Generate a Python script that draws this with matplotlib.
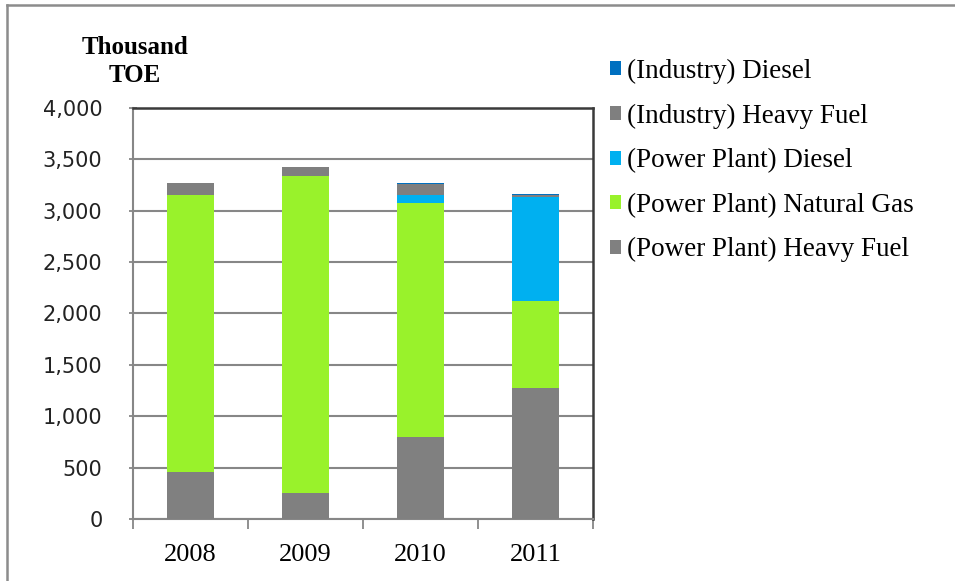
import matplotlib
matplotlib.use("Agg")
import matplotlib.pyplot as plt
from matplotlib.lines import Line2D
from matplotlib.ticker import FuncFormatter, MultipleLocator
import numpy as np

years = ["2008", "2009", "2010", "2011"]
pp_heavy_fuel = [460, 256, 801, 1271]
pp_natural_gas = [2698, 3081, 2270, 853]
pp_diesel = [0, 0, 81, 1007]
ind_heavy_fuel = [108, 90, 112, 22]
ind_diesel = [0, 0, 7, 8]

series = [
    ("(Power Plant) Heavy Fuel", pp_heavy_fuel, "#808080"),
    ("(Power Plant) Natural Gas", pp_natural_gas, "#99F22B"),
    ("(Power Plant) Diesel", pp_diesel, "#00B0F0"),
    ("(Industry) Heavy Fuel", ind_heavy_fuel, "#7F7F7F"),
    ("(Industry) Diesel", ind_diesel, "#0070C0"),
]

fig = plt.figure(figsize=(9.55, 5.81), dpi=100)
ax = fig.add_axes([133/955, 1-519/581, (593-133)/955, (519-108)/581])

x = np.arange(len(years))
bottom = np.zeros(len(years))
handles = []
for name, vals, col in series:
    b = ax.bar(x, vals, width=0.41, bottom=bottom, color=col, label=name, zorder=3)
    handles.append(b)
    bottom += np.array(vals)

ax.set_xlim(-0.5, 3.5)
ax.set_ylim(0, 4000)
ax.yaxis.set_major_locator(MultipleLocator(500))
ax.yaxis.set_major_formatter(FuncFormatter(lambda v, p: f"{int(v):,}"))
ax.grid(axis="y", color="#878787", lw=1.5, zorder=0)

ax.set_xticks(x)
ax.set_xticklabels(years, fontfamily="Liberation Serif", fontsize=19)
ax.set_xticks(np.arange(-0.5, 4.0, 1.0), minor=True)
ax.tick_params(axis="x", which="major", length=0, pad=18)
ax.tick_params(axis="x", which="minor", length=7, width=1.3, color="#878787", direction="out")
ax.tick_params(axis="y", length=6, width=1.3, color="#878787", direction="inout", pad=19, labelsize=15)
for lab in ax.get_yticklabels():
    lab.set_fontfamily("DejaVu Sans")
    lab.set_color("#222222")

ax.spines["left"].set_color("#878787")
ax.spines["left"].set_linewidth(1.5)
ax.spines["bottom"].set_color("#878787")
ax.spines["bottom"].set_linewidth(1.5)
ax.spines["top"].set_color("#3a3a3a")
ax.spines["top"].set_linewidth(1.8)
ax.spines["right"].set_color("#3a3a3a")
ax.spines["right"].set_linewidth(1.8)

fig.text(135/955, 1-48/581, "Thousand", ha="center", va="center", fontfamily="Liberation Serif",
         fontweight="bold", fontsize=18)
fig.text(135/955, 1-76/581, "TOE", ha="center", va="center", fontfamily="Liberation Serif",
         fontweight="bold", fontsize=18)

leg = fig.legend(handles[::-1], [s[0] for s in series][::-1], loc="upper left",
                 bbox_to_anchor=(610/955, 1-59/581), frameon=False,
                 prop={"family": "Liberation Serif", "size": 19.5},
                 handlelength=0.42, handleheight=0.42, handletextpad=0.22,
                 labelspacing=0.72, borderaxespad=0, borderpad=0)

# outer border
fig.add_artist(Line2D([7/955, 7/955], [0, 1-5/581], transform=fig.transFigure, color="#8c8c8c", lw=1.8))
fig.add_artist(Line2D([7/955, 1], [1-5/581, 1-5/581], transform=fig.transFigure, color="#8c8c8c", lw=1.8))

fig.savefig("out.png", dpi=100)
